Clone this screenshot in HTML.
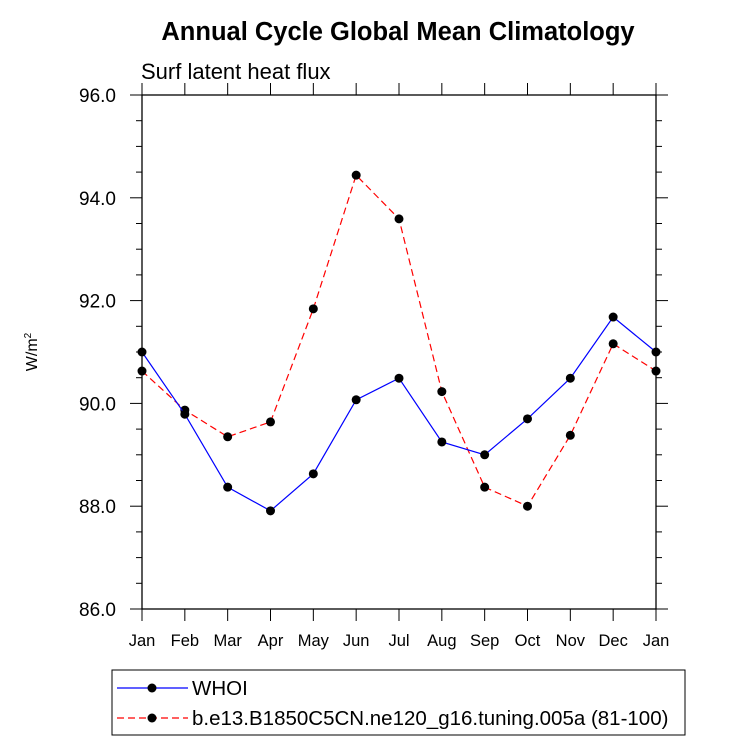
<!DOCTYPE html>
<html><head><meta charset="utf-8"><style>
body{margin:0;background:#fff;font-family:"Liberation Sans",sans-serif}
</style></head><body>
<svg width="733" height="744" xmlns="http://www.w3.org/2000/svg" font-family="Liberation Sans, sans-serif">
<text x="398" y="40" text-anchor="middle" font-size="25.5" font-weight="bold">Annual Cycle Global Mean Climatology</text>
<text x="141" y="79" font-size="22">Surf latent heat flux</text>
<text transform="translate(37,352) rotate(-90)" text-anchor="middle" font-size="16">W/m<tspan font-size="10" dy="-6">2</tspan></text>
<g id="axes"></g>
<g id="series"></g>
<rect x="112" y="670" width="573" height="65" fill="none" stroke="#000" stroke-width="1"/>
<g>
<line x1="117" y1="688" x2="188" y2="688" stroke="#00f" stroke-width="1.2"/>
<circle cx="152" cy="688" r="4.5" fill="#000"/>
<text x="192" y="695" font-size="20.5">WHOI</text></g>
<g>
<line x1="117" y1="718" x2="188" y2="718" stroke="#f00" stroke-width="1.2" stroke-dasharray="7,4"/>
<circle cx="152" cy="718" r="4.5" fill="#000"/>
<text x="192" y="725" font-size="20.5">b.e13.B1850C5CN.ne120_g16.tuning.005a (81-100)</text></g>
</svg>
<script>
const months=["Jan","Feb","Mar","Apr","May","Jun","Jul","Aug","Sep","Oct","Nov","Dec","Jan"];
const whoi=[91.0,89.79,88.37,87.91,88.63,90.07,90.49,89.25,89.0,89.70,90.49,91.68,91.0];
const model=[90.63,89.87,89.35,89.64,91.84,94.44,93.59,90.23,88.37,88.0,89.38,91.16,90.63];
const yTicks=[86,88,90,92,94,96];
const yTickLabels=["86.0","88.0","90.0","92.0","94.0","96.0"];
const L=142,R=656,T=95,B=609,ymin=86,ymax=96;
const sx=i=>L+(R-L)*i/(months.length-1);
const sy=v=>B-(v-ymin)/(ymax-ymin)*(B-T);
const NS="http://www.w3.org/2000/svg";
function mk(tag,attrs,parent){const e=document.createElementNS(NS,tag);for(const k in attrs)e.setAttribute(k,attrs[k]);parent.appendChild(e);return e;}
const ax=document.getElementById('axes');
const frame=mk('rect',{x:L,y:T,width:R-L,height:B-T,fill:'none',stroke:'#000','stroke-width':1.3},ax);


yTicks.forEach((v,i)=>{const y=sy(v);
mk('line',{x1:L-12,y1:y,x2:L,y2:y,stroke:'#000'},ax);
mk('line',{x1:R,y1:y,x2:R+12,y2:y,stroke:'#000'},ax);
const t=mk('text',{x:L-26,y:y+7,'text-anchor':'end','font-size':19},ax);t.textContent=yTickLabels[i];


if(i<yTicks.length-1)for(let k=1;k<4;k++){const yy=sy(v+k*0.5);
mk('line',{x1:L-6,y1:yy,x2:L,y2:yy,stroke:'#000'},ax);
mk('line',{x1:R,y1:yy,x2:R+6,y2:yy,stroke:'#000'},ax);}
});
months.forEach((m,i)=>{const x=sx(i);
mk('line',{x1:x,y1:B,x2:x,y2:B+12,stroke:'#000'},ax);
mk('line',{x1:x,y1:T-12,x2:x,y2:T,stroke:'#000'},ax);
const t=mk('text',{x:x,y:B+37,'text-anchor':'middle','font-size':16.5},ax);t.textContent=m;


});
const sg=document.getElementById('series');
function draw(vals,color,dash,name){
const p=mk('polyline',{points:vals.map((v,i)=>sx(i)+','+sy(v)).join(' '),fill:'none',stroke:color,'stroke-width':1.2,'stroke-dasharray':dash},sg);


vals.forEach((v,i)=>{const c=mk('circle',{cx:sx(i),cy:sy(v),r:4.5,fill:'#000'},sg);

});
}
draw(model,'#f00','7,4','model');
draw(whoi,'#00f','none','whoi');
</script>
</body></html>
